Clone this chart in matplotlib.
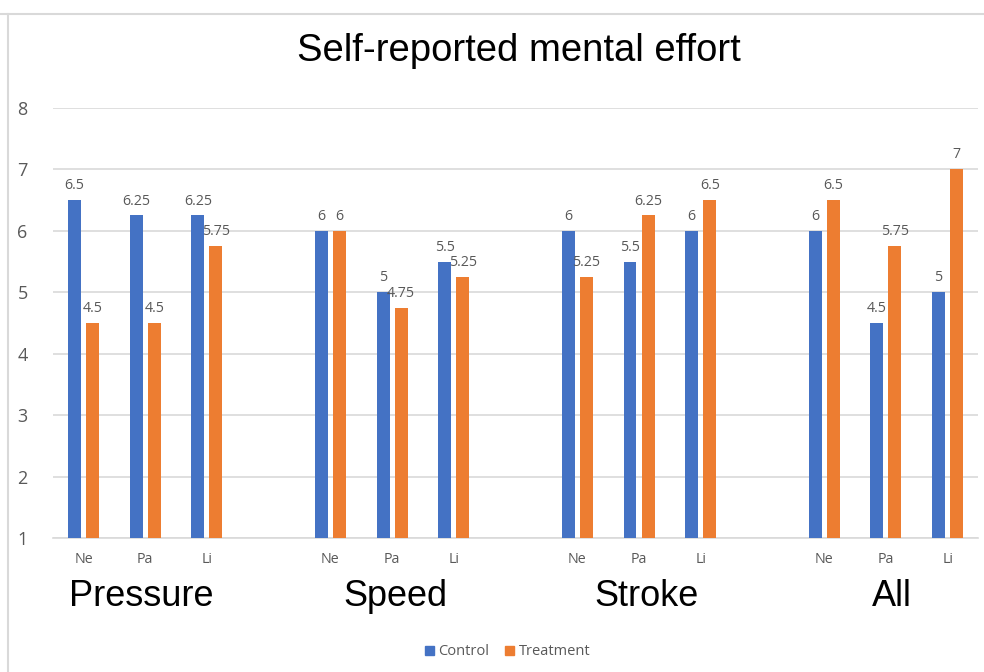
import matplotlib.pyplot as plt
from matplotlib.patches import Patch
from matplotlib.lines import Line2D

groups = ["Pressure", "Speed", "Stroke", "All"]
subcats = ["Ne", "Pa", "Li"]
control = [6.5, 6.25, 6.25, 6, 5, 5.5, 6, 5.5, 6, 6, 4.5, 5]
treatment = [4.5, 4.5, 5.75, 6, 4.75, 5.25, 5.25, 6.25, 6.5, 6.5, 5.75, 7]

BLUE = "#4472C4"
ORANGE = "#ED7D31"
GREY = "#595959"
GRID = "#D9D9D9"
SMALL = ["Open Sans", "DejaVu Sans"]
BIG = ["Liberation Sans", "DejaVu Sans"]

fig = plt.figure(figsize=(9.84, 6.72), dpi=100)
ax = fig.add_axes([0.0535, 0.1994, 0.9409, 0.6399])

# each group takes 3 slots plus one empty slot after it
x = []
for g in range(len(groups)):
    for s in range(len(subcats)):
        x.append(g * 4 + s)

w = 0.21
off = 0.146
b1 = ax.bar([v - off for v in x], control, w, color=BLUE, zorder=3)
b2 = ax.bar([v + off for v in x], treatment, w, color=ORANGE, zorder=3)

for bars, vals in ((b1, control), (b2, treatment)):
    for rect, v in zip(bars, vals):
        ax.annotate(f"{v:g}", (rect.get_x() + rect.get_width() / 2, v),
                    xytext=(0, 5), textcoords="offset points",
                    ha="center", va="bottom", fontsize=10.3, color=GREY,
                    family=SMALL, zorder=4)

ax.set_xlim(-0.5, 14.5)
ax.set_ylim(1, 8)
ax.set_yticks(range(1, 9))
ax.set_xticks(x)
ax.set_xticklabels(subcats * len(groups), fontsize=10.3, color=GREY, family=SMALL)
for lab in ax.get_yticklabels():
    lab.set_fontsize(13)
    lab.set_color(GREY)
    lab.set_family(SMALL)
ax.tick_params(axis="both", length=0)
ax.tick_params(axis="x", pad=10)
ax.tick_params(axis="y", pad=18)
ax.grid(axis="y", color=GRID, linewidth=1.2, zorder=0)
for sp in ["top", "right", "left"]:
    ax.spines[sp].set_visible(False)
ax.spines["bottom"].set_color(GRID)
ax.spines["bottom"].set_linewidth(1.2)

# the group names sit a little off the slot centres in the original
shift = [-0.06, 0.06, 0.12, 0.1]
for g, name in enumerate(groups):
    ax.text(g * 4 + 1 + shift[g], -0.137, name, transform=ax.get_xaxis_transform(),
            ha="center", va="center", fontsize=26, color="black", family=BIG)

fig.text(519 / 984, 1 - 51 / 672, "Self-reported mental effort",
         ha="center", va="center", fontsize=27.5, color="black", family=BIG)

handles = [Patch(color=BLUE, label="Control"), Patch(color=ORANGE, label="Treatment")]
leg = fig.legend(handles=handles, loc="center", bbox_to_anchor=(0.516, 0.03),
                 ncol=2, frameon=False, handlelength=0.6, handleheight=0.6,
                 handletextpad=0.3, columnspacing=1.1,
                 prop={"family": SMALL, "size": 10.5})
for t in leg.get_texts():
    t.set_color(GREY)

# chart border (top and left edges visible in the crop)
fig.add_artist(Line2D([0, 1], [1 - 14 / 672, 1 - 14 / 672], color=GRID, linewidth=1.5))
fig.add_artist(Line2D([8 / 984, 8 / 984], [0, 1 - 14 / 672], color=GRID, linewidth=1.5))

fig.savefig("out.png", dpi=100)
